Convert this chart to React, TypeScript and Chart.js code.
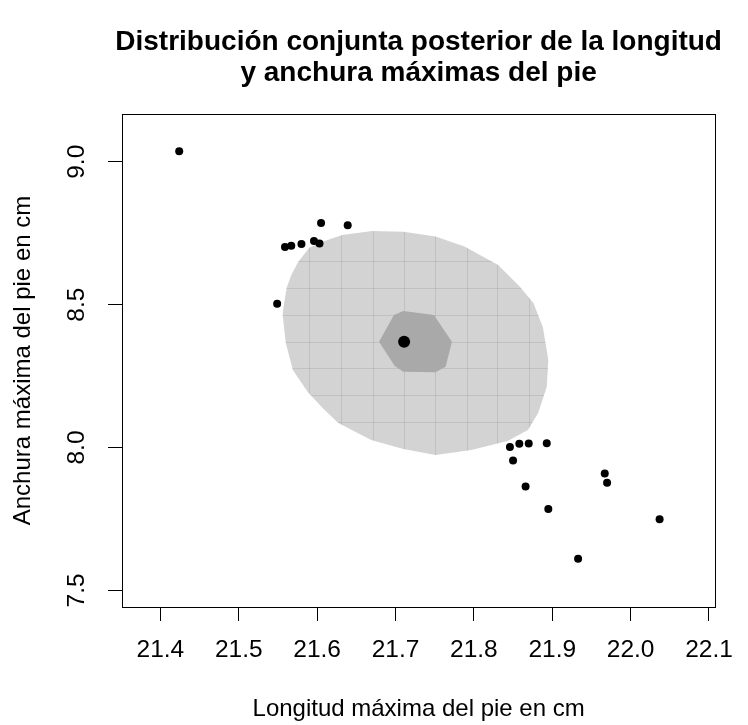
import React, { useEffect, useRef } from 'react';
import { Chart, registerables } from 'chart.js';

Chart.register(...registerables);

// ---- Text ----
const titleLines = ['Distribución conjunta posterior de la longitud', 'y anchura máximas del pie'];
const xTitle = 'Longitud máxima del pie en cm';
const yTitle = 'Anchura máxima del pie en cm';

// ---- Axes ----
const xMin = 21.351;
const xMax = 22.108;
const yMin = 7.442;
const yMax = 9.167;
const xTickValues = [21.4, 21.5, 21.6, 21.7, 21.8, 21.9, 22.0, 22.1];
const yTickValues = [7.5, 8.0, 8.5, 9.0];

// ---- Observed data (length, width) ----
const sampleX = [21.424, 21.549, 21.559, 21.567, 21.580, 21.596, 21.603, 21.605, 21.639,
  21.846, 21.858, 21.870, 21.893, 21.850, 21.866, 21.895, 21.967, 21.970, 22.037, 21.933];
const sampleY = [9.037, 8.503, 8.702, 8.706, 8.712, 8.723, 8.714, 8.786, 8.778,
  8.002, 8.013, 8.014, 8.015, 7.955, 7.864, 7.785, 7.909, 7.877, 7.749, 7.611];

// ---- Posterior mean ----
const meanX = [21.711];
const meanY = [8.370];

// ---- Posterior region (outer, light) ----
const outerX = [21.670, 21.710, 21.751, 21.788, 21.831, 21.859, 21.876, 21.888, 21.895, 21.893,
  21.882, 21.869, 21.843, 21.797, 21.751, 21.710, 21.669, 21.627, 21.607, 21.588,
  21.569, 21.560, 21.556, 21.557, 21.561, 21.567, 21.576, 21.590, 21.607, 21.632];
const outerY = [8.758, 8.755, 8.738, 8.703, 8.639, 8.562, 8.506, 8.422, 8.306, 8.212,
  8.121, 8.061, 8.023, 7.991, 7.974, 7.995, 8.026, 8.086, 8.138, 8.194,
  8.271, 8.366, 8.464, 8.488, 8.558, 8.604, 8.650, 8.699, 8.720, 8.744];

// ---- Posterior region (inner, dark) ----
const innerX = [21.679, 21.698, 21.710, 21.749, 21.772, 21.764, 21.751, 21.710, 21.699];
const innerY = [8.370, 8.464, 8.478, 8.464, 8.370, 8.283, 8.263, 8.265, 8.285];

// ---- Density grid cell boundaries ----
const cellX = [21.590, 21.631, 21.671, 21.711, 21.750, 21.791, 21.830, 21.870];
const cellY = [8.651, 8.557, 8.464, 8.370, 8.277, 8.183, 8.090];

const FONT = "'Liberation Sans', Arial, Helvetica, sans-serif";

const toPts = (xs: number[], ys: number[]) => xs.map((x, i) => ({ x, y: ys[i] }));
const closed = (xs: number[], ys: number[]) => {
  const p = toPts(xs, ys);
  return [...p, p[0]];
};

const rPlugin = {
  id: 'rStyle',
  afterDatasetDraw(chart: any, args: any) {
    if (args.index !== 0) return;
    const { ctx, chartArea } = chart;
    const xs = chart.scales.x;
    const ys = chart.scales.y;
    ctx.save();
    ctx.beginPath();
    outerX.forEach((x, i) => {
      const px = xs.getPixelForValue(x);
      const py = ys.getPixelForValue(outerY[i]);
      if (i === 0) ctx.moveTo(px, py); else ctx.lineTo(px, py);
    });
    ctx.closePath();
    ctx.clip();
    ctx.strokeStyle = 'rgba(150,150,150,0.3)';
    ctx.lineWidth = 1;
    cellX.forEach((x) => {
      const px = Math.round(xs.getPixelForValue(x)) + 0.5;
      ctx.beginPath();
      ctx.moveTo(px, chartArea.top);
      ctx.lineTo(px, chartArea.bottom);
      ctx.stroke();
    });
    cellY.forEach((y) => {
      const py = Math.round(ys.getPixelForValue(y)) + 0.5;
      ctx.beginPath();
      ctx.moveTo(chartArea.left, py);
      ctx.lineTo(chartArea.right, py);
      ctx.stroke();
    });
    ctx.restore();
  },
  afterDraw(chart: any) {
    const { ctx, chartArea } = chart;
    const ys = chart.scales.y;
    ctx.save();
    // box
    ctx.strokeStyle = '#000';
    ctx.lineWidth = 1;
    ctx.strokeRect(Math.round(chartArea.left) + 0.5, Math.round(chartArea.top) + 0.5,
      Math.round(chartArea.right - chartArea.left), Math.round(chartArea.bottom - chartArea.top));
    const cx = (chartArea.left + chartArea.right) / 2;
    ctx.fillStyle = '#000';
    ctx.textAlign = 'center';
    ctx.textBaseline = 'middle';
    // title
    ctx.font = `bold 28px ${FONT}`;
    ctx.fillText(titleLines[0], cx, 42);
    ctx.fillText(titleLines[1], cx, 73);
    // x title
    ctx.font = `24px ${FONT}`;
    ctx.fillText(xTitle, cx, 709);
    // y title
    ctx.save();
    ctx.translate(23, (chartArea.top + chartArea.bottom) / 2);
    ctx.rotate(-Math.PI / 2);
    ctx.fillText(yTitle, 0, 0);
    ctx.restore();
    // y tick labels
    ctx.font = `24.5px ${FONT}`;
    ys.ticks.forEach((t: any) => {
      const py = ys.getPixelForValue(t.value);
      ctx.save();
      ctx.translate(77, py);
      ctx.rotate(-Math.PI / 2);
      ctx.fillText(t.value.toFixed(1), 0, 0);
      ctx.restore();
    });
    ctx.restore();
  },
};

export default function App() {
  const ref = useRef<HTMLCanvasElement>(null);
  useEffect(() => {
    document.body.style.margin = '0';
    if (!ref.current) return;
    const chart = new Chart(ref.current, {
      type: 'scatter',
      data: {
        datasets: [
          {
            type: 'line',
            label: 'outer',
            data: closed(outerX, outerY),
            backgroundColor: '#d3d3d3',
            borderWidth: 0,
            borderColor: 'rgba(0,0,0,0)',
            pointRadius: 0,
            fill: 'shape',
            tension: 0,
            order: 3,
          } as any,
          {
            type: 'line',
            label: 'inner',
            data: closed(innerX, innerY),
            backgroundColor: '#a9a9a9',
            borderWidth: 0,
            borderColor: 'rgba(0,0,0,0)',
            pointRadius: 0,
            fill: 'shape',
            tension: 0,
            order: 2,
          } as any,
          {
            label: 'samples',
            data: toPts(sampleX, sampleY),
            backgroundColor: '#000',
            borderColor: '#000',
            pointRadius: 4,
            borderWidth: 0,
            order: 1,
          },
          {
            label: 'mean',
            data: toPts(meanX, meanY),
            backgroundColor: '#000',
            borderColor: '#000',
            pointRadius: 6,
            borderWidth: 0,
            order: 0,
          },
        ],
      },
      options: {
        responsive: false,
        animation: false,
        layout: { padding: { top: 114, right: 18, left: 0, bottom: 0 } },
        plugins: {
          legend: { display: false },
          title: { display: false },
          tooltip: { enabled: false },
        },
        scales: {
          x: {
            type: 'linear',
            min: xMin,
            max: xMax,
            afterFit: (s: any) => { s.height = 118; },
            afterBuildTicks: (s: any) => { s.ticks = xTickValues.map((v) => ({ value: v })); },
            ticks: {
              includeBounds: false,
              font: { family: FONT, size: 24.5 },
              color: '#000',
              padding: 15,
              maxRotation: 0,
              minRotation: 0,
              autoSkip: false,
              callback: (v: any) => Number(v).toFixed(1),
            },
            grid: { display: true, drawOnChartArea: false, drawTicks: true, tickLength: 14, color: '#000', lineWidth: 1 },
            border: { display: false },
          },
          y: {
            type: 'linear',
            min: yMin,
            max: yMax,
            afterFit: (s: any) => { s.width = 122; },
            afterBuildTicks: (s: any) => { s.ticks = yTickValues.map((v) => ({ value: v })); },
            ticks: { display: false, includeBounds: false },
            grid: { display: true, drawOnChartArea: false, drawTicks: true, tickLength: 14, color: '#000', lineWidth: 1 },
            border: { display: false },
          },
        },
      },
      plugins: [rPlugin],
    });
    return () => chart.destroy();
  }, []);
  return <canvas ref={ref} width={748} height={725} style={{ display: 'block' }} />;
}
